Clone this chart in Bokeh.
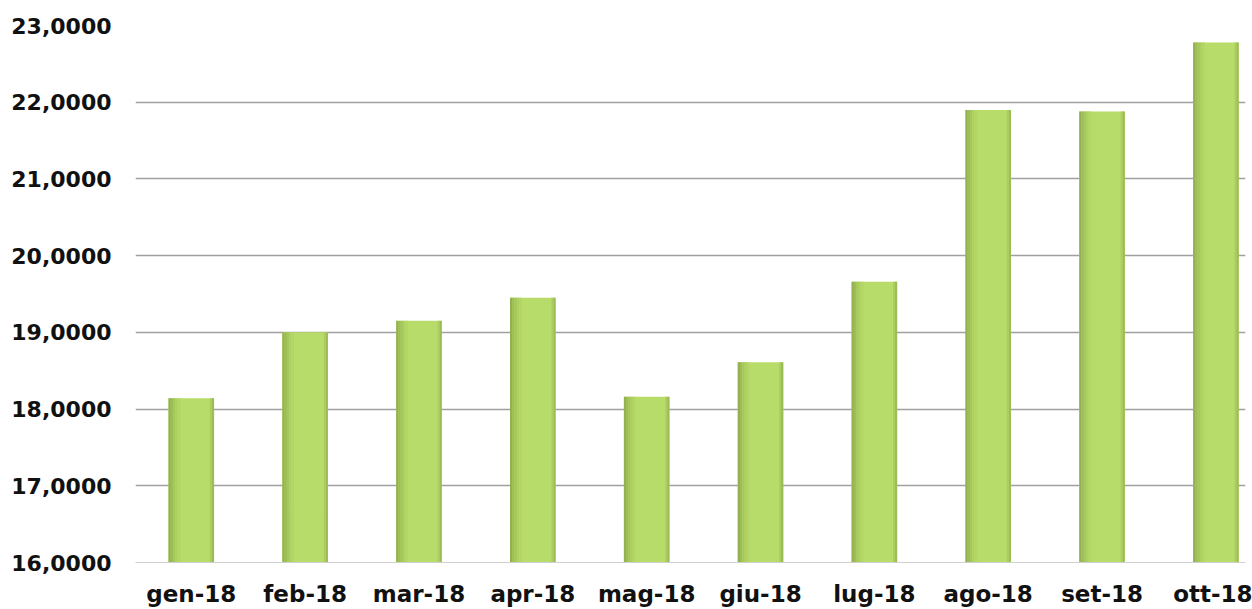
from bokeh.plotting import figure
from bokeh.models import ColumnDataSource, Range1d, FixedTicker
from bokeh.transform import dodge
from bokeh.embed import file_html
from bokeh.resources import INLINE

months = ["gen-18", "feb-18", "mar-18", "apr-18", "mag-18", "giu-18",
          "lug-18", "ago-18", "set-18", "ott-18"]
values = [18.14, 19.00, 19.15, 19.45, 18.16, 18.61, 19.66, 21.90, 21.88, 22.78]
y_ticks = [16, 17, 18, 19, 20, 21, 22, 23]
y_labels = ["16,0000", "17,0000", "18,0000", "19,0000", "20,0000",
            "21,0000", "22,0000", "23,0000"]

xs = list(range(len(months)))
src = ColumnDataSource(dict(x=xs, v=values))

p = figure(width=1252, height=609, output_backend="svg", toolbar_location=None,
           x_range=Range1d(-0.49, 9.26), y_range=Range1d(16, 23),
           min_border_left=135, min_border_right=7, min_border_top=25,
           min_border_bottom=47)
p.outline_line_color = None
p.background_fill_color = "white"

FONT = "DejaVu Sans"

# bar body with shaded vertical strips (simulated gradient)
W = 0.40
strips = [
    (0.0, W, "#b7dc69"),
    (-W/2 + 0.010, 0.020, "#93b150"),
    (-W/2 + 0.030, 0.020, "#9dbd57"),
    (-W/2 + 0.050, 0.020, "#a6c75d"),
    (-W/2 + 0.070, 0.020, "#aecf62"),
    (-W/2 + 0.092, 0.024, "#b3d665"),
    (W/2 - 0.010, 0.020, "#9cbc57"),
    (W/2 - 0.028, 0.016, "#abcc60"),
]
for off, w, col in strips:
    p.vbar(x=dodge("x", off), top="v", bottom=16, width=w, source=src,
           fill_color=col, line_color=None)

p.xgrid.grid_line_color = None
p.ygrid.grid_line_color = "#a0a0a0"
p.ygrid.grid_line_width = 1.3
p.ygrid.ticker = FixedTicker(ticks=y_ticks)

ax = p.yaxis[0]
ax.ticker = FixedTicker(ticks=y_ticks)
ax.major_label_overrides = {t: l for t, l in zip(y_ticks, y_labels)}
ax.axis_line_color = None
ax.major_tick_line_color = None
ax.minor_tick_line_color = None
ax.major_label_standoff = 18
ax.major_label_text_font = FONT
ax.major_label_text_font_style = "bold"
ax.major_label_text_font_size = "22px"
ax.major_label_text_color = "#111111"

bx = p.xaxis[0]
bx.ticker = FixedTicker(ticks=xs)
bx.major_label_overrides = {i: m for i, m in zip(xs, months)}
bx.axis_line_color = "#d0d0d0"
bx.major_tick_line_color = None
bx.minor_tick_line_color = None
bx.major_label_standoff = 12
bx.major_label_text_font = FONT
bx.major_label_text_font_style = "bold"
bx.major_label_text_font_size = "23px"
bx.major_label_text_color = "#111111"

open("out.html", "w").write(file_html(p, INLINE))
